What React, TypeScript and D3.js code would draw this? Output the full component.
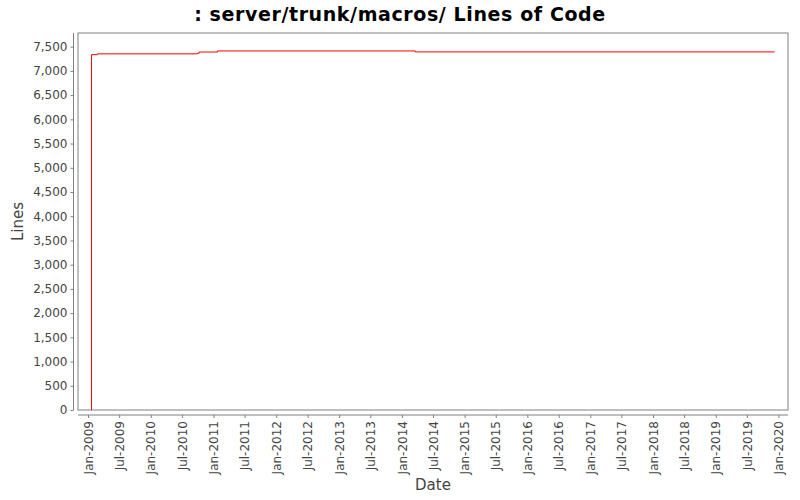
import React, { useRef, useEffect } from 'react';
import * as d3 from 'd3';

// revision dates and line counts
const revDates = ['2009-01-20', '2009-01-21', '2009-02-25', '2010-09-29', '2010-10-09', '2011-01-24', '2014-03-20', '2019-12-10'];
const lineCounts = [0, 7335, 7352, 7365, 7390, 7412, 7392, 7392];

const yTicks = [0, 500, 1000, 1500, 2000, 2500, 3000, 3500, 4000, 4500, 5000, 5500, 6000, 6500, 7000, 7500];

const width = 800;
const height = 500;
const font = '"DejaVu Sans", Verdana, sans-serif';

const App: React.FC = () => {
  const svgRef = useRef<SVGSVGElement>(null);

  useEffect(() => {
    if (!svgRef.current) return;
    const svg = d3.select(svgRef.current);
    svg.selectAll('*').remove();

    const parse = d3.timeParse('%Y-%m-%d');
    const data = revDates.map((d, i) => ({ date: parse(d)!, value: lineCounts[i] }));

    const plot = { left: 78, top: 33, right: 788, bottom: 410 };

    // Date axis with a small margin either side of the data
    const [t0, t1] = d3.extent(data, d => d.date) as [Date, Date];
    const pad = (t1.getTime() - t0.getTime()) * 0.0195;
    const x = d3.scaleTime()
      .domain([new Date(t0.getTime() - pad), new Date(t1.getTime() + pad)])
      .range([plot.left, plot.right]);

    const y = d3.scaleLinear()
      .domain([0, (d3.max(data, d => d.value) || 1) * 1.05])
      .range([plot.bottom, plot.top]);

    svg.append('rect')
      .attr('width', width)
      .attr('height', height)
      .attr('fill', '#ffffff');

    // Title
    svg.append('text')
      .attr('x', width / 2)
      .attr('y', 21)
      .attr('text-anchor', 'middle')
      .attr('font-family', font)
      .attr('font-size', '19px')
      .attr('font-weight', 'bold')
      .attr('letter-spacing', '0.6px')
      .attr('fill', '#000')
      .text(': server/trunk/macros/ Lines of Code');

    // Plot background + outline
    svg.append('rect')
      .attr('x', plot.left)
      .attr('y', plot.top)
      .attr('width', plot.right - plot.left)
      .attr('height', plot.bottom - plot.top)
      .attr('fill', '#fff')
      .attr('stroke', '#808080')
      .attr('stroke-width', 1);

    // Y axis (offset a few px left of the plot)
    const yAxis = svg.append('g')
      .attr('transform', `translate(${plot.left - 4.5}, 0)`)
      .call(d3.axisLeft(y).tickValues(yTicks).tickSize(3).tickPadding(3).tickFormat(d3.format(',')));
    yAxis.select('.domain').attr('stroke', '#808080').attr('d', `M-0,${plot.top}V${plot.bottom}`);
    yAxis.selectAll('.tick line').attr('stroke', '#808080');
    yAxis.selectAll('.tick text')
      .attr('font-family', font)
      .attr('font-size', '12px')
      .attr('fill', '#444');

    // X axis (offset below the plot)
    const xTicks = d3.timeMonth.range(new Date(2009, 0, 1), new Date(2020, 1, 1), 6);
    const xAxis = svg.append('g')
      .attr('transform', `translate(0, ${plot.bottom + 5})`)
      .call(d3.axisBottom(x).tickValues(xTicks).tickSize(3).tickFormat(d => d3.timeFormat('%b-%Y')(d as Date)));
    xAxis.select('.domain').attr('stroke', '#808080').attr('d', `M${plot.left},0H${plot.right}`);
    xAxis.selectAll('.tick line').attr('stroke', '#808080');
    xAxis.selectAll('.tick text')
      .attr('font-family', font)
      .attr('font-size', '12px')
      .attr('fill', '#444')
      .attr('text-anchor', 'end')
      .attr('transform', 'rotate(-90)')
      .attr('x', -6)
      .attr('y', 0)
      .attr('dy', '0.35em');

    // Axis labels
    svg.append('text')
      .attr('x', (plot.left + plot.right) / 2)
      .attr('y', 490)
      .attr('text-anchor', 'middle')
      .attr('font-family', font)
      .attr('font-size', '15px')
      .attr('fill', '#444')
      .text('Date');

    svg.append('text')
      .attr('transform', `translate(23, ${(plot.top + plot.bottom) / 2}) rotate(-90)`)
      .attr('text-anchor', 'middle')
      .attr('font-family', font)
      .attr('font-size', '15px')
      .attr('fill', '#444')
      .text('Lines');

    // Lines of code step line
    const line = d3.line<{ date: Date; value: number }>()
      .x(d => x(d.date))
      .y(d => y(d.value))
      .curve(d3.curveStepAfter);

    svg.append('path')
      .datum(data)
      .attr('fill', 'none')
      .attr('stroke', '#ff0000')
      .attr('stroke-width', 1)
      .attr('d', line);
  }, []);

  return (
    <svg
      ref={svgRef}
      width={width}
      height={height}
      style={{ position: 'absolute', left: 0, top: 0 }}
    />
  );
};

export default App;
